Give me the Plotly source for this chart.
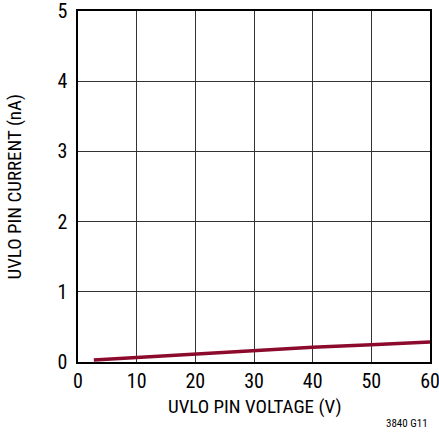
import plotly.graph_objects as go

voltage = [2.7, 10, 20, 30, 40, 50, 60]
current = [0.03, 0.067, 0.12, 0.166, 0.21, 0.246, 0.285]
x_ticks = [0, 10, 20, 30, 40, 50, 60]
y_ticks = [0, 1, 2, 3, 4, 5]

font = "Liberation Sans Narrow, Nimbus Sans Narrow, Arial Narrow, Roboto Condensed, sans-serif"

fig = go.Figure()
fig.add_trace(go.Scatter(x=voltage, y=current, mode="lines",
                         line=dict(color="#8c0a2c", width=3.5), showlegend=False))

fig.update_layout(
    width=439, height=435,
    margin=dict(l=78, r=9, t=11, b=73),
    paper_bgcolor="white", plot_bgcolor="white",
    font=dict(family=font, color="black", size=19),
    xaxis=dict(range=[0, 60], tickvals=x_ticks, showgrid=True, gridcolor="#333333", gridwidth=1,
               showline=True, linecolor="black", linewidth=1.5, mirror=True, ticks="",
               zeroline=False, tickfont=dict(size=20), automargin=False,
               ticklabeloverflow="allow"),
    yaxis=dict(range=[0, 5], tickvals=y_ticks, showgrid=True, gridcolor="#333333", gridwidth=1,
               showline=True, linecolor="black", linewidth=1.5, mirror=True, ticks="",
               zeroline=False, tickfont=dict(size=20), automargin=False,
               ticklabeloverflow="allow", ticklabelstandoff=5),
    annotations=[
        dict(text="UVLO PIN VOLTAGE (V)", x=0.5, y=0, xref="paper", yref="paper",
             xanchor="center", yanchor="middle", yshift=-44, showarrow=False,
             font=dict(size=19)),
        dict(text="UVLO PIN CURRENT (nA)", x=0, y=0.5, xref="paper", yref="paper",
             xanchor="center", yanchor="middle", xshift=-64, textangle=-90, showarrow=False,
             font=dict(size=19)),
        dict(text="3840 G11", x=1, y=0, xref="paper", yref="paper",
             xanchor="right", yanchor="middle", yshift=-61, showarrow=False,
             font=dict(size=11)),
    ],
)

fig.write_html("out.html", config={"displayModeBar": False},
               post_script="document.body.style.margin='0';")
